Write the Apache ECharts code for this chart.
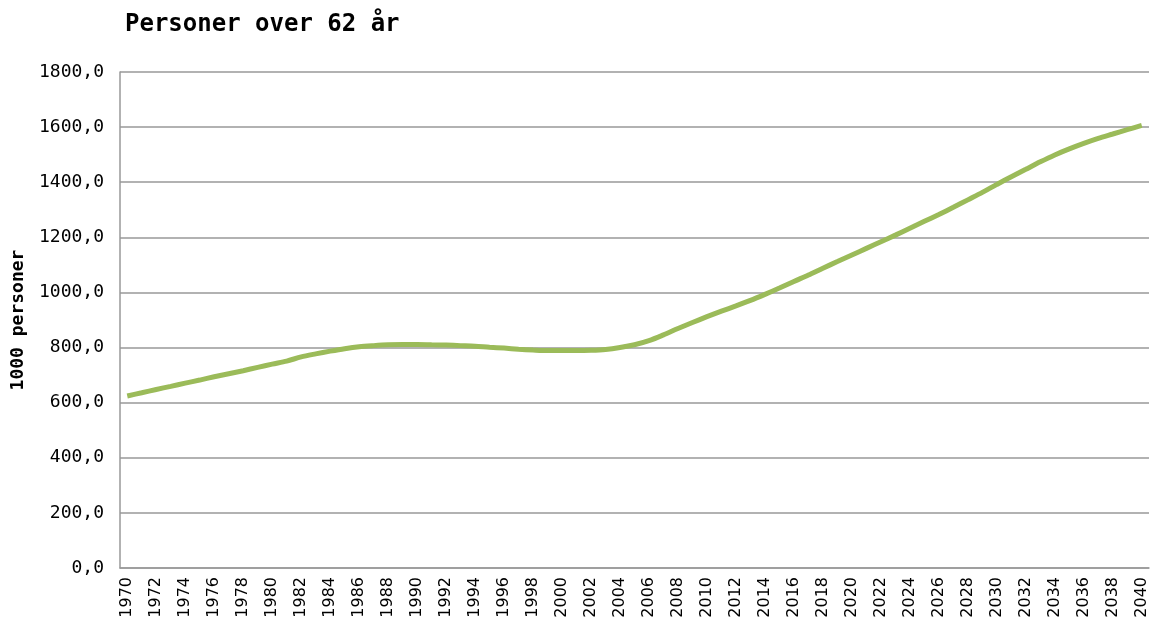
<!DOCTYPE html>
<html><head><meta charset="utf-8">
<script src="https://cdn.jsdelivr.net/npm/echarts@6/dist/echarts.min.js"></script>
<style>html,body{margin:0;padding:0;background:#fff}#c{width:1155px;height:623px}</style>
</head><body><div id="c"></div>
<script>
const years = [];
for (let y = 1970; y <= 2040; y++) years.push(String(y));
const personer = [
 624, 636, 648, 659, 671, 682, 694, 705, 716, 728,
 740, 751, 766, 777, 787, 796, 803, 807, 810, 811,
 811, 810, 809, 807, 805, 801, 798, 794, 791, 789,
 789, 789, 790, 793, 800, 810, 825, 846, 869, 891,
 912, 932, 951, 971, 993, 1016, 1040, 1063, 1088, 1112,
 1136, 1160, 1184, 1208, 1233, 1258, 1283, 1309, 1336, 1363,
 1392, 1420, 1447, 1474, 1499, 1521, 1541, 1559, 1575, 1591,
 1606
];
const yTicks = { min: 0, max: 1800, interval: 200 };
const chart = echarts.init(document.getElementById('c'));
chart.setOption({
  animation: false,
  title: { text: 'Personer over 62 år', left: 120, top: 8,
    textStyle: { fontFamily: 'DejaVu Sans Mono', fontWeight: 'bold', fontSize: 24, color: '#000' } },
  grid: { left: 120, right: 6, top: 72, bottom: 55, outerBoundsMode: 'none', containLabel: false },
  xAxis: {
    type: 'category', data: years, boundaryGap: true,
    axisLine: { lineStyle: { color: '#999', width: 1.5 } },
    axisTick: { show: false },
    axisLabel: { interval: 1, rotate: 90, margin: 9, color: '#000', fontFamily: 'DejaVu Sans', fontSize: 16 }
  },
  yAxis: {
    type: 'value', min: yTicks.min, max: yTicks.max, interval: yTicks.interval,
    name: '1000 personer', nameLocation: 'middle', nameGap: 93,
    nameTextStyle: { fontFamily: 'DejaVu Sans Mono', fontWeight: 'bold', fontSize: 18, color: '#000' },
    axisLine: { show: true, lineStyle: { color: '#999', width: 1.5 } },
    axisTick: { show: false },
    splitLine: { lineStyle: { color: '#999', width: 1.5 } },
    axisLabel: { margin: 16, color: '#000', fontFamily: 'DejaVu Sans Mono', fontSize: 18,
      formatter: v => v.toFixed(1).replace('.', ',') }
  },
  series: [{
    type: 'line', data: personer, smooth: 0.3, showSymbol: false,
    lineStyle: { color: '#9BBB59', width: 5 }
  }]
});
</script></body></html>
